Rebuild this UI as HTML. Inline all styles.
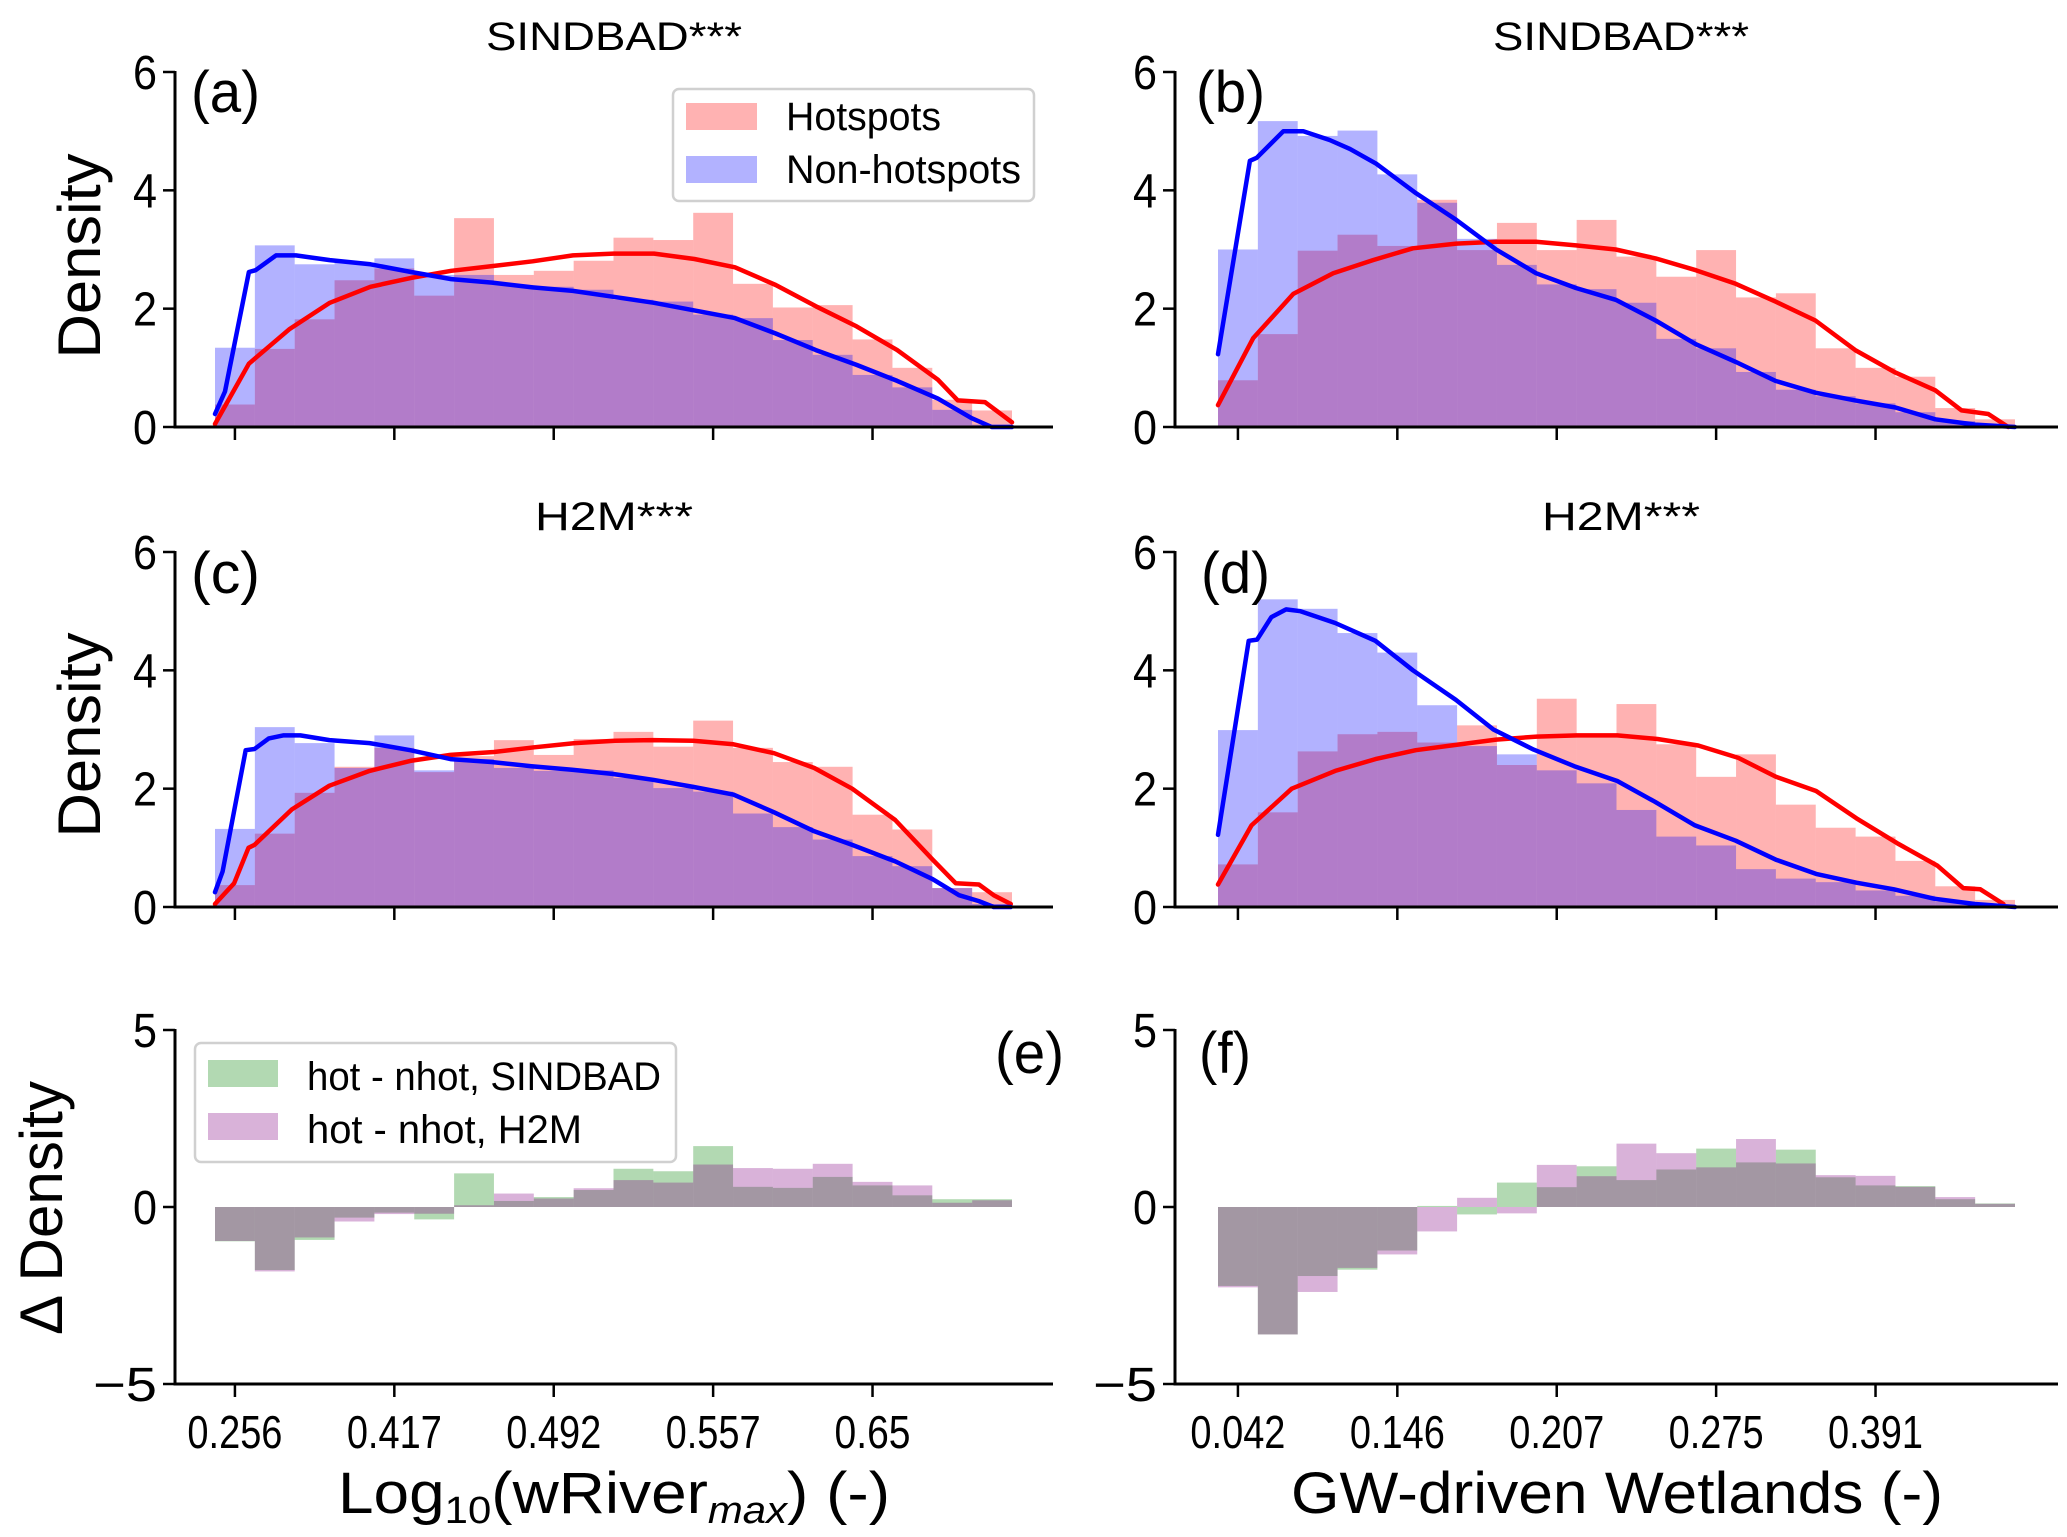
<!DOCTYPE html>
<html><head><meta charset="utf-8"><style>
html,body{margin:0;padding:0;background:#fff;}
svg{display:block;font-family:"Liberation Sans","DejaVu Sans",sans-serif;}
</style></head>
<body>
<svg id="fig" width="2067" height="1537" viewBox="0 0 2067 1537" xmlns="http://www.w3.org/2000/svg">
<rect width="2067" height="1537" fill="#fff"/>
<g id="layer"></g>
<!-- titles -->
<text x="614" y="50" font-size="40" text-anchor="middle" textLength="256" lengthAdjust="spacingAndGlyphs">SINDBAD***</text>
<text x="1621" y="50" font-size="40" text-anchor="middle" textLength="256" lengthAdjust="spacingAndGlyphs">SINDBAD***</text>
<text x="614" y="530" font-size="40" text-anchor="middle" textLength="158" lengthAdjust="spacingAndGlyphs">H2M***</text>
<text x="1621" y="530" font-size="40" text-anchor="middle" textLength="158" lengthAdjust="spacingAndGlyphs">H2M***</text>
<!-- panel letters -->
<text x="191" y="112" font-size="58" textLength="69" lengthAdjust="spacingAndGlyphs">(a)</text>
<text x="1196" y="112" font-size="58" textLength="69" lengthAdjust="spacingAndGlyphs">(b)</text>
<text x="191" y="593" font-size="58" textLength="69" lengthAdjust="spacingAndGlyphs">(c)</text>
<text x="1201" y="593" font-size="58" textLength="69" lengthAdjust="spacingAndGlyphs">(d)</text>
<text x="995" y="1073" font-size="58" textLength="69" lengthAdjust="spacingAndGlyphs">(e)</text>
<text x="1199" y="1073" font-size="58" textLength="52" lengthAdjust="spacingAndGlyphs">(f)</text>
<!-- y labels -->
<text transform="translate(100,256) rotate(-90)" font-size="60" text-anchor="middle" textLength="205" lengthAdjust="spacingAndGlyphs">Density</text>
<text transform="translate(100,735) rotate(-90)" font-size="60" text-anchor="middle" textLength="205" lengthAdjust="spacingAndGlyphs">Density</text>
<text transform="translate(62,1208) rotate(-90)" font-size="60" text-anchor="middle" textLength="254" lengthAdjust="spacingAndGlyphs">Δ Density</text>
<!-- x labels -->
<text x="614" y="1513" font-size="58" text-anchor="middle" textLength="552" lengthAdjust="spacingAndGlyphs">Log<tspan font-size="38" dy="10">10</tspan><tspan dy="-10">(wRiver</tspan><tspan font-size="38" dy="10" font-style="italic">max</tspan><tspan dy="-10">) (-)</tspan></text>
<text x="1617" y="1513" font-size="58" text-anchor="middle" textLength="652" lengthAdjust="spacingAndGlyphs">GW-driven Wetlands (-)</text>
<!-- legend a -->
<g>
<rect x="673" y="89" width="361" height="112" rx="6" fill="#fff" fill-opacity="0.8" stroke="#d0d0d0" stroke-width="2.5"/>
<rect x="686" y="103" width="71" height="27" fill="#ff0000" fill-opacity="0.3"/>
<rect x="686" y="156" width="71" height="27" fill="#0000ff" fill-opacity="0.3"/>
<text x="786" y="130" font-size="40" textLength="155" lengthAdjust="spacingAndGlyphs">Hotspots</text>
<text x="786" y="183" font-size="40" textLength="235" lengthAdjust="spacingAndGlyphs">Non-hotspots</text>
</g>
<g id="legendE"></g>
</svg>
<script>
// ---------- data (bin heights, 20 bins per panel) ----------
const binCount = 20;
const xTickLabelsLeft = ["0.256","0.417","0.492","0.557","0.65"];
const xTickLabelsRight = ["0.042","0.146","0.207","0.275","0.391"];
const xTickBins = [0.5,4.5,8.5,12.5,16.5];
const yTicksDensity = [0,2,4,6];
const yTicksDelta = [-5,0,5];

const hotA = [0.38,1.32,1.82,2.48,2.68,2.22,3.53,2.57,2.64,2.81,3.2,3.16,3.62,2.42,2.02,2.06,1.48,1.0,0.46,0.28];
const nhotA = [1.34,3.07,2.75,2.78,2.85,2.57,2.57,2.40,2.37,2.32,2.15,2.12,1.9,1.84,1.47,1.22,0.88,0.67,0.29,0.04];
const hotB = [0.79,1.57,2.98,3.25,3.06,3.84,2.99,3.45,2.99,3.5,2.88,2.54,2.99,2.19,2.26,1.33,1.0,0.85,0.32,0.13];
const nhotB = [3.0,5.17,4.92,5.01,4.27,3.79,3.18,2.74,2.41,2.33,2.1,1.49,1.33,0.93,0.63,0.52,0.4,0.25,0.1,0.04];
const hotC = [0.37,1.24,1.93,2.37,2.69,2.28,2.55,2.82,2.57,2.84,2.96,2.71,3.15,2.69,2.45,2.37,1.56,1.31,0.32,0.25];
const nhotC = [1.32,3.04,2.77,2.35,2.9,2.31,2.5,2.35,2.3,2.31,2.18,2.01,1.95,1.58,1.35,1.14,0.86,0.69,0.32,0.05];
const hotD = [0.72,1.6,2.63,2.92,2.96,2.78,3.07,2.4,3.52,2.92,3.43,2.75,2.2,2.58,1.73,1.34,1.19,0.78,0.35,0.12];
const nhotD = [2.99,5.2,5.04,4.63,4.3,3.41,2.72,2.58,2.31,2.09,1.64,1.19,1.04,0.64,0.48,0.42,0.28,0.19,0.09,0.04];

const deltaSindbadE = [-0.97,-1.78,-0.93,-0.3,-0.16,-0.35,0.95,0.17,0.28,0.48,1.08,1.01,1.72,0.57,0.54,0.85,0.61,0.33,0.22,0.22];
const deltaH2mE = [-0.96,-1.82,-0.86,-0.41,-0.2,-0.19,0.05,0.38,0.24,0.53,0.76,0.69,1.2,1.1,1.08,1.22,0.71,0.61,0.12,0.19];
const deltaSindbadF = [-2.23,-3.6,-1.95,-1.77,-1.23,0.03,-0.21,0.69,0.56,1.15,0.76,1.06,1.65,1.26,1.62,0.84,0.61,0.59,0.22,0.1];
const deltaH2mF = [-2.27,-3.6,-2.4,-1.72,-1.34,-0.69,0.26,-0.18,1.19,0.87,1.79,1.52,1.12,1.92,1.23,0.9,0.88,0.57,0.28,0.09];

// KDE curves: x in bin units, y density
const kdeHotAx = [0,0.85,1.86,2.88,3.9,4.92,5.93,6.95,7.97,8.98,10,11.02,12.03,13.05,14.07,15.08,16.1,17.12,18.14,18.64,19.32,20];
const kdeHotAy = [0.05,1.07,1.65,2.1,2.37,2.52,2.64,2.72,2.8,2.9,2.93,2.93,2.84,2.7,2.4,2.04,1.7,1.3,0.8,0.45,0.42,0.08];
const kdeNhotAx = [0,0.25,0.85,1.02,1.53,2.03,2.88,3.9,4.92,5.93,6.95,7.97,8.98,10,11.02,12.03,13.05,14.07,15.08,16.1,17.12,18.14,18.98,19.49,20];
const kdeNhotAy = [0.22,0.6,2.62,2.65,2.9,2.9,2.82,2.75,2.62,2.5,2.44,2.36,2.3,2.2,2.1,1.97,1.84,1.58,1.3,1.05,0.78,0.48,0.15,0,0];
const kdeHotBx = [0,0.88,1.89,2.89,3.89,4.89,5.98,6.98,7.98,8.98,9.98,10.98,11.99,12.99,13.99,14.99,15.99,17,18,18.66,19.33,19.83];
const kdeHotBy = [0.37,1.5,2.25,2.6,2.82,3.02,3.1,3.13,3.13,3.07,3.0,2.85,2.65,2.42,2.12,1.8,1.3,0.92,0.62,0.28,0.22,0];
const kdeNhotBx = [0,0.8,0.97,1.64,2.14,2.8,3.31,3.97,4.97,5.98,6.98,7.98,8.98,9.98,10.98,11.99,12.99,13.99,14.99,15.99,17,18,19,20];
const kdeNhotBy = [1.23,4.5,4.55,5.0,5.0,4.85,4.7,4.45,3.95,3.5,3.0,2.6,2.35,2.15,1.8,1.4,1.1,0.78,0.58,0.45,0.33,0.13,0.04,0];
const kdeHotCx = [0,0.48,0.84,0.99,1.93,2.87,3.88,4.9,5.91,7,8.01,9.03,10.04,10.99,12,13.01,14.03,15.04,15.99,17.07,18.01,18.59,19.17,19.54,19.97];
const kdeHotCy = [0.05,0.4,1.0,1.05,1.65,2.05,2.3,2.47,2.57,2.62,2.7,2.77,2.81,2.82,2.81,2.75,2.6,2.35,2.0,1.47,0.8,0.4,0.38,0.2,0.05];
const kdeNhotCx = [0,0.19,0.77,0.99,1.35,1.71,2.14,2.87,3.88,4.9,5.91,6.93,7.94,8.96,9.97,10.99,12,13.01,14.03,15.04,15.99,17.07,18.01,18.67,19.17,19.54,19.97];
const kdeNhotCy = [0.25,0.6,2.65,2.67,2.85,2.9,2.9,2.82,2.77,2.65,2.5,2.45,2.38,2.32,2.25,2.15,2.03,1.9,1.6,1.28,1.05,0.77,0.47,0.2,0.1,0,0];
const kdeHotDx = [0,0.84,1.85,2.94,3.95,4.96,5.97,6.98,8,9.01,10.02,11.03,12.05,13.06,14,15.01,16.02,17.04,18.05,18.7,19.13,19.71];
const kdeHotDy = [0.38,1.38,2.0,2.3,2.5,2.65,2.74,2.83,2.88,2.9,2.9,2.84,2.73,2.52,2.2,1.96,1.5,1.08,0.7,0.32,0.3,0.05];
const kdeNhotDx = [0,0.77,0.98,1.34,1.71,2.07,2.94,3.95,4.89,5.97,6.91,7.92,8.94,10.02,10.96,11.97,12.99,14,15.01,16.02,16.96,17.97,18.99,20];
const kdeNhotDy = [1.22,4.5,4.52,4.9,5.03,5.0,4.8,4.5,4.0,3.5,3.0,2.66,2.38,2.13,1.78,1.38,1.12,0.8,0.56,0.41,0.3,0.14,0.05,0];

// ---------- drawing ----------
const NS = "http://www.w3.org/2000/svg";
const layer = document.getElementById("layer");
function mk(tag, attrs, parent){
  const e = document.createElementNS(NS, tag);
  for (const k in attrs) e.setAttribute(k, attrs[k]);
  (parent||layer).appendChild(e);
  return e;
}
const BW = 39.85;
const panels = [
  {id:"a", spine:175, right:1053, bin0:215, vTop:6, vBot:0, pTop:72, pBot:427, hot:hotA, nhot:nhotA, kh:[kdeHotAx,kdeHotAy], kn:[kdeNhotAx,kdeNhotAy]},
  {id:"b", spine:1175, right:2058, bin0:1218, vTop:6, vBot:0, pTop:72, pBot:427, hot:hotB, nhot:nhotB, kh:[kdeHotBx,kdeHotBy], kn:[kdeNhotBx,kdeNhotBy]},
  {id:"c", spine:175, right:1053, bin0:215, vTop:6, vBot:0, pTop:552, pBot:907, hot:hotC, nhot:nhotC, kh:[kdeHotCx,kdeHotCy], kn:[kdeNhotCx,kdeNhotCy]},
  {id:"d", spine:1175, right:2058, bin0:1218, vTop:6, vBot:0, pTop:552, pBot:907, hot:hotD, nhot:nhotD, kh:[kdeHotDx,kdeHotDy], kn:[kdeNhotDx,kdeNhotDy]},
  {id:"e", spine:175, right:1053, bin0:215, vTop:5, vBot:-5, pTop:1030, pBot:1384, s:deltaSindbadE, h:deltaH2mE, labels:xTickLabelsLeft},
  {id:"f", spine:1175, right:2058, bin0:1218, vTop:5, vBot:-5, pTop:1030, pBot:1384, s:deltaSindbadF, h:deltaH2mF, labels:xTickLabelsRight}
];

panels.forEach(p => {
  const g = mk("g", {});
  
  
  const xs = u => p.bin0 + u * BW;
  const ys = v => p.pBot - (v - p.vBot) / (p.vTop - p.vBot) * (p.pBot - p.pTop);
  function bars(vals, color, name){
    vals.forEach((v,i) => {
      const y0 = ys(0), y1 = ys(v);
      const r = mk("rect", {x:xs(i), y:Math.min(y0,y1), width:BW, height:Math.abs(y1-y0), fill:color, "fill-opacity":0.3}, g);
      
      
    });
  }
  function line(xa, ya, color, name){
    const pts = xa.map((x,i) => xs(x).toFixed(1) + "," + ys(ya[i]).toFixed(1)).join(" ");
    const l = mk("polyline", {points:pts, fill:"none", stroke:color, "stroke-width":4.5, "stroke-linejoin":"round", "stroke-linecap":"round"}, g);
    
    
  }
  if (p.hot){
    bars(p.hot, "#ff0000", "hotspots");
    bars(p.nhot, "#0000ff", "nonhotspots");
    line(p.kh[0], p.kh[1], "#ff0000", "hotspots");
    line(p.kn[0], p.kn[1], "#0000ff", "nonhotspots");
  } else {
    bars(p.s, "#008000", "sindbad-delta");
    bars(p.h, "#800080", "h2m-delta");
  }
  // spines
  const bottomY = p.hot ? ys(0) : p.pBot;
  const ls = mk("line", {x1:p.spine, y1:p.pTop-1, x2:p.spine, y2:bottomY+1.5, stroke:"#000", "stroke-width":3}, g);
  
  
  const bs = mk("line", {x1:p.spine-1.5, y1:bottomY, x2:p.right, y2:bottomY, stroke:"#000", "stroke-width":3}, g);
  
  
  // y ticks
  const yt = p.hot ? yTicksDensity : yTicksDelta;
  yt.forEach(v => {
    const t = mk("line", {x1:p.spine-12, y1:ys(v), x2:p.spine, y2:ys(v), stroke:"#000", "stroke-width":2.5}, g);
    
    
    const lab = mk("text", {x:p.spine-18, y:ys(v)+17, "font-size":48, "text-anchor":"end"}, g);
    if (v < 0){ lab.setAttribute("textLength", 64); lab.setAttribute("lengthAdjust", "spacingAndGlyphs"); }
    else { lab.setAttribute("textLength", 24); lab.setAttribute("lengthAdjust", "spacingAndGlyphs"); }
    lab.textContent = v < 0 ? "\u2212" + Math.abs(v) : String(v);
    
    
  });
  // x ticks
  xTickBins.forEach((b,i) => {
    const t = mk("line", {x1:xs(b), y1:bottomY, x2:xs(b), y2:bottomY+13, stroke:"#000", "stroke-width":2.5}, g);
    
    
    if (p.labels){
      const lab = mk("text", {x:xs(b), y:1448, "font-size":46, "text-anchor":"middle", textLength: p.labels[i].length === 4 ? 76 : 95, lengthAdjust:"spacingAndGlyphs"}, g);
      lab.textContent = p.labels[i];
      
      
    }
  });
});

// legend e (drawn on top)
const le = document.getElementById("legendE");
const fr = mk("rect", {x:195, y:1043, width:481, height:119, rx:6, fill:"#fff", "fill-opacity":0.8, stroke:"#d0d0d0", "stroke-width":2.5}, le);


const p1 = mk("rect", {x:208, y:1060, width:70, height:27, fill:"#008000", "fill-opacity":0.3}, le);


const p2 = mk("rect", {x:208, y:1113, width:70, height:27, fill:"#800080", "fill-opacity":0.3}, le);


const t1 = mk("text", {x:307, y:1090, "font-size":40, textLength:354, lengthAdjust:"spacingAndGlyphs"}, le);
t1.textContent = "hot - nhot, SINDBAD";


const t2 = mk("text", {x:307, y:1143, "font-size":40, textLength:275, lengthAdjust:"spacingAndGlyphs"}, le);
t2.textContent = "hot - nhot, H2M";


</script>
</body></html>
